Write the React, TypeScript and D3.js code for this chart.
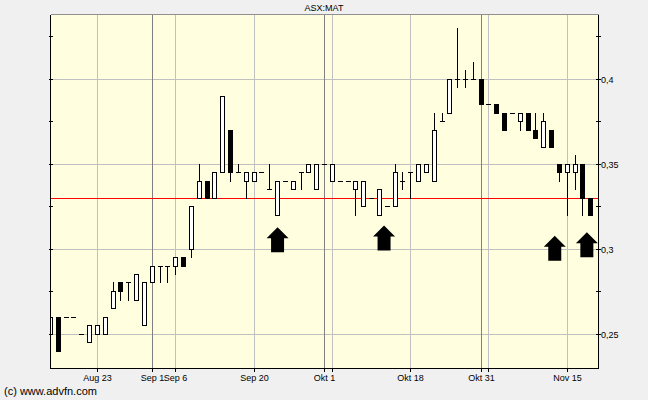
import React from "react";
import * as d3 from "d3";

// Trading days (categories): weekdays from 13 Aug 2010 to 18 Nov 2010
const startDay = new Date(2010, 7, 13);
const endDay = new Date(2010, 10, 19);
const tradingDays = d3.timeDay.range(startDay, endDay).filter((d) => d.getDay() % 6 !== 0);

const opens = [
  0.25, 0.26, 0.26, 0.26, 0.25, 0.245, 0.25, 0.25, 0.265, 0.28,
  0.28, 0.27, 0.255, 0.28, 0.29, 0.29, 0.29, 0.295, 0.30, 0.33,
  0.34, 0.33, 0.345, 0.37, 0.345, 0.34, 0.34, 0.345, 0.335, 0.32,
  0.34, 0.335, 0.345, 0.345, 0.335, 0.35, 0.34, 0.34, 0.34, 0.335,
  0.325, 0.33, 0.32, 0.325, 0.325, 0.34, 0.345, 0.34, 0.345, 0.34,
  0.375, 0.38, 0.40, 0.40, 0.40, 0.40, 0.385, 0.385, 0.38, 0.38,
  0.375, 0.38, 0.37, 0.36, 0.37, 0.35, 0.345, 0.345, 0.35, 0.33,
];
const highs = [
  0.26, 0.26, 0.26, 0.26, 0.25, 0.255, 0.255, 0.26, 0.28, 0.28,
  0.28, 0.285, 0.28, 0.29, 0.29, 0.29, 0.295, 0.295, 0.325, 0.35,
  0.34, 0.345, 0.39, 0.37, 0.35, 0.345, 0.345, 0.345, 0.35, 0.34,
  0.34, 0.34, 0.345, 0.35, 0.35, 0.35, 0.35, 0.34, 0.34, 0.34,
  0.34, 0.33, 0.335, 0.325, 0.35, 0.345, 0.345, 0.35, 0.35, 0.38,
  0.38, 0.40, 0.43, 0.405, 0.41, 0.40, 0.385, 0.385, 0.38, 0.38,
  0.38, 0.38, 0.38, 0.38, 0.37, 0.35, 0.35, 0.355, 0.35, 0.33,
];
const lows = [
  0.25, 0.24, 0.26, 0.26, 0.25, 0.245, 0.25, 0.25, 0.265, 0.27,
  0.27, 0.27, 0.255, 0.28, 0.28, 0.28, 0.285, 0.29, 0.295, 0.33,
  0.33, 0.33, 0.345, 0.34, 0.345, 0.33, 0.34, 0.345, 0.335, 0.32,
  0.34, 0.335, 0.335, 0.345, 0.335, 0.35, 0.34, 0.34, 0.34, 0.32,
  0.325, 0.33, 0.32, 0.325, 0.325, 0.335, 0.33, 0.34, 0.345, 0.34,
  0.375, 0.38, 0.395, 0.395, 0.40, 0.385, 0.385, 0.38, 0.37, 0.38,
  0.37, 0.37, 0.365, 0.36, 0.36, 0.34, 0.32, 0.335, 0.32, 0.32,
];
const closes = [
  0.26, 0.24, 0.26, 0.26, 0.25, 0.255, 0.255, 0.26, 0.275, 0.275,
  0.28, 0.285, 0.28, 0.29, 0.29, 0.29, 0.295, 0.29, 0.325, 0.34,
  0.33, 0.345, 0.39, 0.345, 0.345, 0.345, 0.345, 0.345, 0.335, 0.34,
  0.34, 0.34, 0.345, 0.35, 0.35, 0.35, 0.35, 0.34, 0.34, 0.34,
  0.34, 0.33, 0.335, 0.325, 0.345, 0.34, 0.345, 0.35, 0.35, 0.37,
  0.375, 0.40, 0.40, 0.40, 0.40, 0.385, 0.385, 0.38, 0.37, 0.38,
  0.38, 0.37, 0.365, 0.375, 0.36, 0.345, 0.35, 0.35, 0.33, 0.32,
];

const refLevel = 0.33;

const lightGridDates = ["2010-08-23", "2010-09-06", "2010-09-20", "2010-10-04", "2010-10-18", "2010-11-01", "2010-11-15"];
const darkGridDates = ["2010-09-01", "2010-10-01", "2010-10-29"];
const tickDates = ["2010-08-23", "2010-09-01", "2010-09-06", "2010-09-20", "2010-10-01", "2010-10-18", "2010-10-29", "2010-11-15"];
const tickLabels = ["Aug 23", "Sep 1", "Sep 6", "Sep 20", "Okt 1", "Okt 18", "Okt 31", "Nov 15"];

const yTicks = [0.25, 0.275, 0.3, 0.325, 0.35, 0.375, 0.4, 0.425];
const yLabeled = [0.25, 0.3, 0.35, 0.4];

// signal arrows: position in trading-day index and price of the tip
const arrowIdx = [29, 42.6, 64.4, 68.5];
const arrowTip = [0.3125, 0.3135, 0.3075, 0.3095];

const title = "ASX:MAT";
const credit = "(c) www.advfn.com";

const fmtDay = d3.timeFormat("%Y-%m-%d");
const dayIndex = (s: string) => tradingDays.findIndex((d) => fmtDay(d) === s);

export default function App() {
  const W = 648, H = 400;
  const L = 51, R = 598, T = 15, B = 368;
  const x = d3.scaleLinear().domain([0, 70]).range([50.5, 598.6]);
  const y = d3.scaleLinear().domain([0.25, 0.4]).range([333.5, 78.5]);
  const col = (i: number) => Math.floor(x(i));
  const row = (v: number) => Math.round(y(v));
  const font = "'Liberation Sans', Arial, sans-serif";

  const candles = opens.map((o, i) => ({ i, o, h: highs[i], l: lows[i], c: closes[i] }));

  return (
    <svg width={W} height={H} style={{ position: "absolute", left: 0, top: 0 }} fontFamily={font}>
      <defs>
        <clipPath id="plot">
          <rect x={L} y={T} width={R - L} height={B - T} />
        </clipPath>
      </defs>
      <rect x={0} y={0} width={W} height={H} fill="#f0f0f0" />
      <rect x={L} y={T} width={R - L} height={B - T} fill="#ffffe0" />

      <g shapeRendering="crispEdges">
        {yLabeled.map((v) => (
          <line key={"hg" + v} x1={L} x2={R} y1={row(v) + 0.5} y2={row(v) + 0.5} stroke="#c0c0c0" />
        ))}
        {lightGridDates.map((s) => (
          <line key={"lg" + s} x1={col(dayIndex(s)) + 0.5} x2={col(dayIndex(s)) + 0.5} y1={T} y2={B + 4} stroke="#c0c0c0" />
        ))}
        {darkGridDates.map((s) => (
          <line key={"dg" + s} x1={col(dayIndex(s)) + 0.5} x2={col(dayIndex(s)) + 0.5} y1={T} y2={B + 4} stroke="#808080" />
        ))}
        <line x1={L} x2={R} y1={row(refLevel) + 0.5} y2={row(refLevel) + 0.5} stroke="#ff0000" />

        <g clipPath="url(#plot)">
          {candles.map((d) => {
            const k = col(d.i);
            const c = k + 0.5;
            const top = row(Math.max(d.o, d.c));
            const bot = row(Math.min(d.o, d.c));
            const up = d.c >= d.o;
            const parts: any[] = [];
            if (d.h !== d.l) {
              parts.push(<line key="w" x1={c} x2={c} y1={row(d.h)} y2={row(d.l) + 1} stroke="#000" />);
            }
            if (top === bot) {
              parts.push(<line key="b" x1={k - 2} x2={k + 3} y1={top + 0.5} y2={top + 0.5} stroke="#000" />);
            } else {
              parts.push(
                <rect key="b" x={k - 1.5} y={top + 0.5} width={4} height={bot - top}
                  fill={up ? "#ffffff" : "#000000"} stroke="#000" strokeWidth={1} />
              );
            }
            return <g key={d.i}>{parts}</g>;
          })}
        </g>

        {/* frame */}
        <line x1={L} x2={R + 1} y1={T - 0.5} y2={T - 0.5} stroke="#909090" />
        <line x1={L - 0.5} x2={L - 0.5} y1={T} y2={B + 1} stroke="#000" />
        <line x1={R + 0.5} x2={R + 0.5} y1={T} y2={B + 1} stroke="#000" />
        <line x1={L - 1} x2={R + 1} y1={B + 0.5} y2={B + 0.5} stroke="#000" />

        {/* y ticks */}
        {yTicks.map((v) => (
          <g key={"yt" + v}>
            <line x1={L - 2} x2={L + 2} y1={row(v) + 0.5} y2={row(v) + 0.5} stroke="#000" />
            <line x1={R - 2} x2={R + 3} y1={row(v) + 0.5} y2={row(v) + 0.5} stroke="#000" />
          </g>
        ))}
        {/* x ticks */}
        {[...lightGridDates, ...darkGridDates].map((s) => (
          <line key={"xt" + s} x1={col(dayIndex(s)) + 0.5} x2={col(dayIndex(s)) + 0.5} y1={B} y2={B + 4} stroke="#000" />
        ))}
      </g>

      {/* arrows */}
      {arrowIdx.map((ai, j) => {
        const cx = x(ai);
        const ty = y(arrowTip[j]);
        const p = d3.path();
        p.moveTo(cx, ty);
        p.lineTo(cx + 11, ty + 11);
        p.lineTo(cx + 6.5, ty + 11);
        p.lineTo(cx + 6.5, ty + 25);
        p.lineTo(cx - 6.5, ty + 25);
        p.lineTo(cx - 6.5, ty + 11);
        p.lineTo(cx - 11, ty + 11);
        p.closePath();
        return <path key={"ar" + j} d={p.toString()} fill="#000" />;
      })}

      {/* y labels */}
      {yLabeled.map((v) => (
        <text key={"yl" + v} x={601} y={row(v) + 0.5} dy="0.35em" fontSize={9} fill="#000">
          {String(+v.toFixed(3)).replace(".", ",")}
        </text>
      ))}
      {/* x labels */}
      {tickDates.map((s, j) => (
        <text key={"xl" + s} x={col(dayIndex(s)) + 0.5} y={381} fontSize={9} textAnchor="middle" fill="#000">
          {tickLabels[j]}
        </text>
      ))}

      <text x={324} y={11} fontSize={9} textAnchor="middle" fill="#000">{title}</text>
      <text x={4} y={395} fontSize={11} fill="#000">{credit}</text>
    </svg>
  );
}
